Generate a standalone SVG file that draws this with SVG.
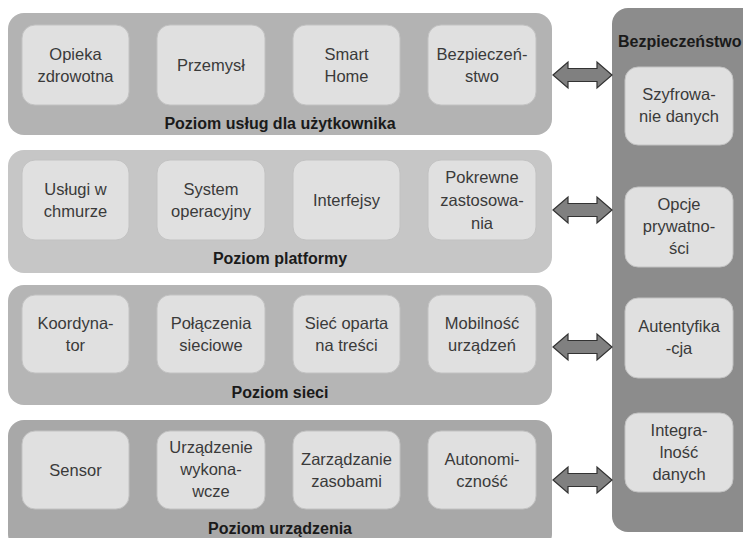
<svg xmlns="http://www.w3.org/2000/svg" width="743" height="538" viewBox="0 0 743 538">
<style>
.panel{stroke:none}
.box{fill:#e0e0e0;stroke:#c2c2c2;stroke-width:1}
.t{font-family:"Liberation Sans",Arial,sans-serif;font-size:16.5px;fill:#3a3a3a;text-anchor:middle}
.lbl{font-family:"Liberation Sans",Arial,sans-serif;font-size:16px;font-weight:bold;fill:#1a1a1a;text-anchor:middle}
.arr{fill:#808080;stroke:#333;stroke-width:1.2;stroke-linejoin:miter}
</style>
<defs>
<path id="dbl" d="M553,0 L568,-13 L568,-6.5 L597,-6.5 L597,-13 L612,0 L597,13 L597,6.5 L568,6.5 L568,13 Z"/>
</defs>
<rect width="743" height="538" fill="#ffffff"/>

<g id="security">
<rect x="612" y="8" width="150" height="524" rx="16" fill="#8c8c8c"/>
<text x="618" y="47" class="lbl" style="text-anchor:start">Bezpieczeństwo</text>
<g id="sec1"><rect class="box" x="625" y="67" width="108" height="78" rx="13"/><text class="t" x="679" y="100">Szyfrowa-</text><text class="t" x="679" y="122">nie danych</text></g>
<g id="sec2"><rect class="box" x="625" y="187" width="108" height="80" rx="13"/><text class="t" x="679" y="210">Opcje</text><text class="t" x="679" y="232">prywatno-</text><text class="t" x="679" y="254">ści</text></g>
<g id="sec3"><rect class="box" x="625" y="298" width="108" height="80" rx="13"/><text class="t" x="679" y="332">Autentyfika</text><text class="t" x="679" y="354">-cja</text></g>
<g id="sec4"><rect class="box" x="625" y="413" width="108" height="79" rx="13"/><text class="t" x="679" y="436">Integra-</text><text class="t" x="679" y="458">lność</text><text class="t" x="679" y="480">danych</text></g>
</g>

<g id="layer1">
<rect class="panel" x="8" y="13" width="544" height="122" rx="16" fill="#b3b3b3"/>
<g id="n11"><rect class="box" x="22" y="25" width="107" height="80" rx="13"/><text class="t" x="75.5" y="60">Opieka</text><text class="t" x="75.5" y="82">zdrowotna</text></g>
<g id="n12"><rect class="box" x="157" y="25" width="108" height="80" rx="13"/><text class="t" x="211" y="71">Przemysł</text></g>
<g id="n13"><rect class="box" x="293" y="25" width="107" height="80" rx="13"/><text class="t" x="346.5" y="60">Smart</text><text class="t" x="346.5" y="82">Home</text></g>
<g id="n14"><rect class="box" x="428" y="25" width="108" height="80" rx="13"/><text class="t" x="482" y="60">Bezpieczeń-</text><text class="t" x="482" y="82">stwo</text></g>
<text class="lbl" x="280" y="129">Poziom usług dla użytkownika</text>
</g>

<g id="layer2">
<rect class="panel" x="8" y="150" width="544" height="123" rx="16" fill="#c6c6c6"/>
<g id="n21"><rect class="box" x="22" y="160" width="107" height="80" rx="13"/><text class="t" x="75.5" y="195">Usługi w</text><text class="t" x="75.5" y="217">chmurze</text></g>
<g id="n22"><rect class="box" x="157" y="160" width="108" height="80" rx="13"/><text class="t" x="211" y="195">System</text><text class="t" x="211" y="217">operacyjny</text></g>
<g id="n23"><rect class="box" x="293" y="160" width="107" height="80" rx="13"/><text class="t" x="346.5" y="206">Interfejsy</text></g>
<g id="n24"><rect class="box" x="428" y="160" width="108" height="80" rx="13"/><text class="t" x="482" y="183">Pokrewne</text><text class="t" x="482" y="206">zastosowa-</text><text class="t" x="482" y="229">nia</text></g>
<text class="lbl" x="280" y="264">Poziom platformy</text>
</g>

<g id="layer3">
<rect class="panel" x="8" y="285" width="544" height="120" rx="16" fill="#b5b5b5"/>
<g id="n31"><rect class="box" x="22" y="295" width="107" height="78" rx="13"/><text class="t" x="75.5" y="329">Koordyna-</text><text class="t" x="75.5" y="351">tor</text></g>
<g id="n32"><rect class="box" x="157" y="295" width="108" height="78" rx="13"/><text class="t" x="211" y="329">Połączenia</text><text class="t" x="211" y="351">sieciowe</text></g>
<g id="n33"><rect class="box" x="293" y="295" width="107" height="78" rx="13"/><text class="t" x="346.5" y="329">Sieć oparta</text><text class="t" x="346.5" y="351">na treści</text></g>
<g id="n34"><rect class="box" x="428" y="295" width="108" height="78" rx="13"/><text class="t" x="482" y="329">Mobilność</text><text class="t" x="482" y="351">urządzeń</text></g>
<text class="lbl" x="280" y="398">Poziom sieci</text>
</g>

<g id="layer4">
<rect class="panel" x="8" y="420" width="544" height="130" rx="16" fill="#a8a8a8"/>
<g id="n41"><rect class="box" x="22" y="431" width="107" height="78" rx="13"/><text class="t" x="75.5" y="476">Sensor</text></g>
<g id="n42"><rect class="box" x="157" y="431" width="108" height="78" rx="13"/><text class="t" x="211" y="453">Urządzenie</text><text class="t" x="211" y="475">wykona-</text><text class="t" x="211" y="497">wcze</text></g>
<g id="n43"><rect class="box" x="293" y="431" width="107" height="78" rx="13"/><text class="t" x="346.5" y="465">Zarządzanie</text><text class="t" x="346.5" y="487">zasobami</text></g>
<g id="n44"><rect class="box" x="428" y="431" width="108" height="78" rx="13"/><text class="t" x="482" y="465">Autonomi-</text><text class="t" x="482" y="487">czność</text></g>
<text class="lbl" x="280" y="534">Poziom urządzenia</text>
</g>

<g id="connectors">
<use href="#dbl" class="arr" transform="translate(0,75)"/>
<use href="#dbl" class="arr" transform="translate(0,210)"/>
<use href="#dbl" class="arr" transform="translate(0,347)"/>
<use href="#dbl" class="arr" transform="translate(0,480)"/>
</g>
</svg>
